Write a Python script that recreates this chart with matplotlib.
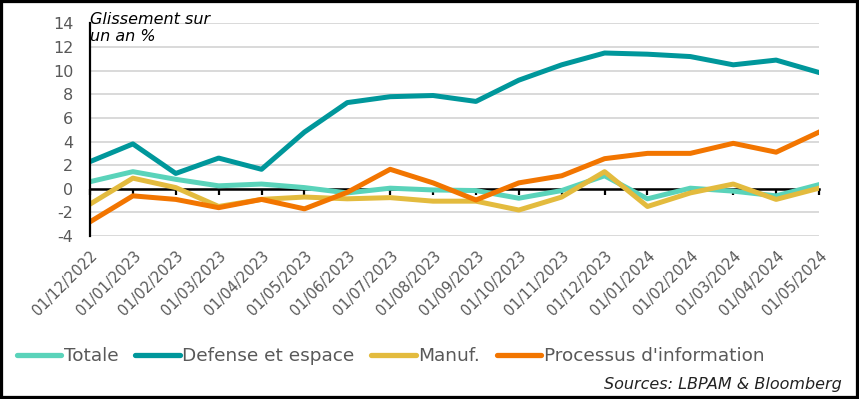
import numpy as np
import matplotlib
matplotlib.use("Agg")
import matplotlib.pyplot as plt
from matplotlib.patches import Rectangle

plt.rcParams["axes.unicode_minus"] = False

dates = ["01/12/2022", "01/01/2023", "01/02/2023", "01/03/2023", "01/04/2023",
         "01/05/2023", "01/06/2023", "01/07/2023", "01/08/2023", "01/09/2023",
         "01/10/2023", "01/11/2023", "01/12/2023", "01/01/2024", "01/02/2024",
         "01/03/2024", "01/04/2024", "01/05/2024"]

totale = [0.6, 1.45, 0.8, 0.25, 0.4, 0.1, -0.35, 0.05, -0.1, -0.15,
          -0.8, -0.15, 1.1, -0.85, 0.05, -0.2, -0.6, 0.35]
defense = [2.3, 3.8, 1.3, 2.6, 1.65, 4.8, 7.3, 7.8, 7.9, 7.4,
           9.2, 10.5, 11.5, 11.4, 11.2, 10.5, 10.9, 9.85]
manuf = [-1.3, 0.9, 0.1, -1.5, -0.9, -0.7, -0.85, -0.75, -1.05, -1.05,
         -1.8, -0.7, 1.45, -1.5, -0.35, 0.4, -0.9, 0.05]
processus = [-2.8, -0.6, -0.9, -1.6, -0.9, -1.7, -0.3, 1.65, 0.5, -0.95,
             0.5, 1.1, 2.55, 3.0, 3.0, 3.85, 3.1, 4.8]

series = [("Totale", totale, "#5AD3BA"),
          ("Defense et espace", defense, "#00979B"),
          ("Manuf.", manuf, "#E3BB3E"),
          ("Processus d'information", processus, "#F27500")]

gray = "#595959"
x = np.arange(len(dates))

fig = plt.figure(figsize=(8.59, 3.99), dpi=100)
ax = fig.add_axes([90/859, 1-236/399, (819-90)/859, (236-23.5)/399])

for name, vals, col in series:
    ax.plot(x, vals, color=col, lw=3.6, label=name, zorder=3)

ax.set_xlim(0, len(dates)-1)
ax.set_ylim(-4, 14)
ax.set_yticks(np.arange(-4, 15, 2))
ax.grid(axis="y", color="#D9D9D9", lw=1.4, zorder=0)
ax.set_axisbelow(True)

for s in ["top", "right", "bottom"]:
    ax.spines[s].set_visible(False)
ax.spines["left"].set_color("black")
ax.spines["left"].set_linewidth(1.6)
ax.spines["left"].set_zorder(4)

ax.tick_params(axis="y", length=0, pad=12, labelsize=11.5, labelcolor=gray)
ax.set_xticks(x)
ax.set_xticklabels(dates, rotation=45, ha="right", rotation_mode="anchor",
                   fontsize=10.5, color=gray)
ax.tick_params(axis="x", length=0, pad=9)

# zero line with its tick marks
zero = ax.secondary_xaxis(4/18)
zero.set_zorder(2)
zero.set_xticks(x)
zero.set_xticklabels([])
zero.tick_params(direction="out", length=4, width=1.6, color="black")
zero.spines["bottom"].set_linewidth(1.8)
zero.spines["bottom"].set_color("black")

fig.text(90/859, 1-12/399, "Glissement sur\nun an %", fontsize=11.5,
         style="italic", va="top", ha="left", linespacing=1.2)

fig.legend(loc="center left", bbox_to_anchor=(17/859, 1-356/399), ncol=4,
           frameon=False, fontsize=13.3, labelcolor=gray, handlelength=2.4,
           handletextpad=0.15, columnspacing=0.9, borderaxespad=0, borderpad=0)
for h in fig.legends[0].legend_handles:
    h.set_linewidth(3.8)
    h.set_solid_capstyle("round")

fig.text(842/859, 1-389/399, "Sources: LBPAM & Bloomberg", fontsize=11.5,
         style="italic", ha="right", va="baseline", color="#222222")

fig.patches.append(Rectangle((0, 0), 1, 1, transform=fig.transFigure,
                             fill=False, edgecolor="black", lw=4.5))

fig.savefig("out.png", dpi=100)
